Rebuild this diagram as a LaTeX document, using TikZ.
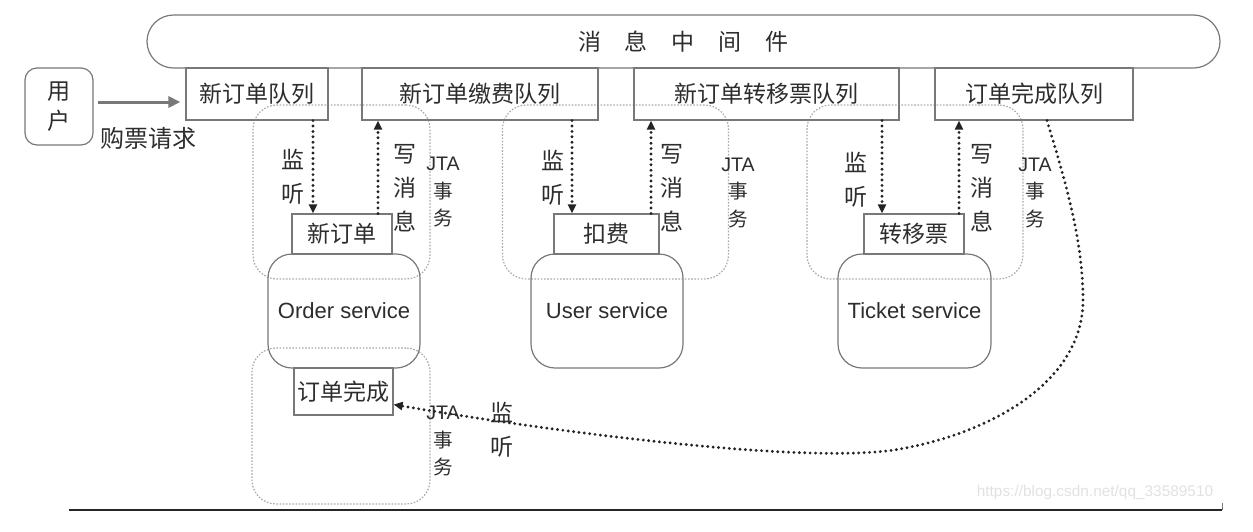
\documentclass[tikz,border=0pt]{standalone}
\usepackage{fontspec}
\setmainfont{Liberation Sans}
\newfontfamily\cjk{Noto Sans CJK SC}
\definecolor{linecolor}{RGB}{120,120,120}
\definecolor{textcolor}{RGB}{45,45,45}
\definecolor{groupcolor}{RGB}{170,170,170}
\definecolor{dotcolor}{RGB}{35,35,35}
\definecolor{markcolor}{RGB}{225,225,225}
\usetikzlibrary{arrows.meta, calc}

\begin{document}
\begin{tikzpicture}[x=0.5pt, y=-0.5pt,
  every node/.style={text=textcolor, inner sep=0pt},
  box/.style={draw=linecolor, line width=0.6pt, font=\cjk\fontsize{11.5}{13}\selectfont},
  queue/.style={box, minimum height=26pt},
  task/.style={box, minimum width=50pt, minimum height=20pt},
  service/.style={draw=linecolor, line width=0.6pt, rounded corners=12pt, minimum width=76pt, minimum height=57pt, font=\fontsize{11}{13}\selectfont},
  jta/.style={draw=groupcolor, line width=0.6pt, dash pattern=on 0.8pt off 0.8pt, rounded corners=12pt},
  tag/.style={align=center, font=\cjk\fontsize{11.5}{17}\selectfont},
  jtatag/.style={align=center, font=\fontsize{9.8}{13.75}\selectfont},
  listen/.style={dotcolor, line width=1.6pt, line cap=round, dash pattern=on 0pt off 2.7pt, -{Triangle[length=4.5pt,width=4pt]}},
]
  \useasboundingbox (0,0) rectangle (1253,531);

  % JTA transaction groups
  \node[jta, minimum width=88.5pt, minimum height=87pt] (G1) at (341.5,192) {};
  \node[jta, minimum width=113pt, minimum height=87pt] (G2) at (615.5,192) {};
  \node[jta, minimum width=108pt, minimum height=87pt] (G3) at (915,192) {};
  \node[jta, minimum width=89pt, minimum height=78pt] (G4) at (341,426) {};

  % Message middleware
  \node[box, rounded corners=13.25pt, minimum width=536.5pt, minimum height=26.5pt] (MQ) at (683.5,41.5)
    {消\hspace{12pt}息\hspace{12pt}中\hspace{12pt}间\hspace{12pt}件};

  % Queues
  \node[queue, minimum width=71pt] (Q1) at (257,94) {新订单队列};
  \node[queue, minimum width=118pt] (Q2) at (480,94) {新订单缴费队列};
  \node[queue, minimum width=132.5pt] (Q3) at (766.5,94) {新订单转移票队列};
  \node[queue, minimum width=99pt] (Q4) at (1034,94) {订单完成队列};

  % User
  \node[box, rounded corners=6pt, minimum width=34pt, minimum height=38.5pt, align=center,
    font=\cjk\fontsize{11.5}{15}\selectfont] (USER) at (59,106.5) {用\\户};
  \node[font=\cjk\fontsize{12}{14}\selectfont] (REQ) at (148,138) {购票请求};
  \draw[linecolor, line width=1.5pt, -{Triangle[length=6pt,width=5.5pt]}, shorten <=2pt, shorten >=2.5pt]
    ([yshift=2.25pt]USER.east) -- ([yshift=2.25pt]USER.east -| Q1.west);

  % Tasks and services
  \node[task] (NEWORDER) at (342,234) {新订单};
  \node[task, minimum width=52.5pt] (PAY) at (606.5,234) {扣费};
  \node[task] (MOVE) at (914,234) {转移票};
  \node[task, minimum width=49.5pt, minimum height=23.5pt] (FIN) at (343.5,391.5) {订单完成};
  \node[service] (ORDER) at (344,311) {Order service};
  \node[service] (USERSVC) at (607,311) {User service};
  \node[service, minimum width=76.5pt] (TICKET) at (914.5,311) {Ticket service};

  % Listen / write arrows
  \coordinate (D1) at ([xshift=-14.5pt]NEWORDER.north);
  \coordinate (U1) at ([xshift=18pt]NEWORDER.north);
  \coordinate (D2) at ([xshift=-17.25pt]PAY.north);
  \coordinate (U2) at ([xshift=22.25pt]PAY.north);
  \coordinate (D3) at ([xshift=-16pt]MOVE.north);
  \coordinate (U3) at ([xshift=22.5pt]MOVE.north);
  \draw[listen] (D1 |- Q1.south) -- (D1);
  \draw[listen] (U1) -- (U1 |- Q2.south);
  \draw[listen] (D2 |- Q2.south) -- (D2);
  \draw[listen] (U2) -- (U2 |- Q3.south);
  \draw[listen] (D3 |- Q3.south) -- (D3);
  \draw[listen] (U3) -- (U3 |- Q4.south);
  \coordinate (C4) at ([xshift=6.5pt]Q4.south);
  \coordinate (C5) at ([yshift=-6.5pt]FIN.east);
  \draw[listen] (C4) .. controls (1065,180) and (1083,240) .. (1083,300)
    .. controls (1083,380) and (995,432) .. (900,449)
    .. controls (805,466) and (536,429) .. (C5);

  % Labels
  \node[tag] (L1) at (293,177) {监\\听};
  \node[tag] (W1) at (405,188.5) {写\\消\\息};
  \node[jtatag] (J1) at (443,192.5) {JTA\\{\cjk 事}\\{\cjk 务}};
  \node[tag] (L2) at (553,177.5) {监\\听};
  \node[tag] (W2) at (672,188) {写\\消\\息};
  \node[jtatag] (J2) at (738,193) {JTA\\{\cjk 事}\\{\cjk 务}};
  \node[tag] (L3) at (856,180) {监\\听};
  \node[tag] (W3) at (982,188) {写\\消\\息};
  \node[jtatag] (J3) at (1035,193) {JTA\\{\cjk 事}\\{\cjk 务}};
  \node[jtatag] (J4) at (443,441.5) {JTA\\{\cjk 事}\\{\cjk 务}};
  \node[tag] (L4) at (502,429.5) {监\\听};

  % Footer
  \draw[black!85, line width=1pt] (69,510) -- (1222,510);
  \draw[linecolor, line width=0.5pt] (1222.5,503) -- (1222.5,510);
  \node[text=markcolor, font=\fontsize{7.7}{9}\selectfont] (MARK) at (1095,493) {https://blog.csdn.net/qq\_33589510};
\end{tikzpicture}
\end{document}
